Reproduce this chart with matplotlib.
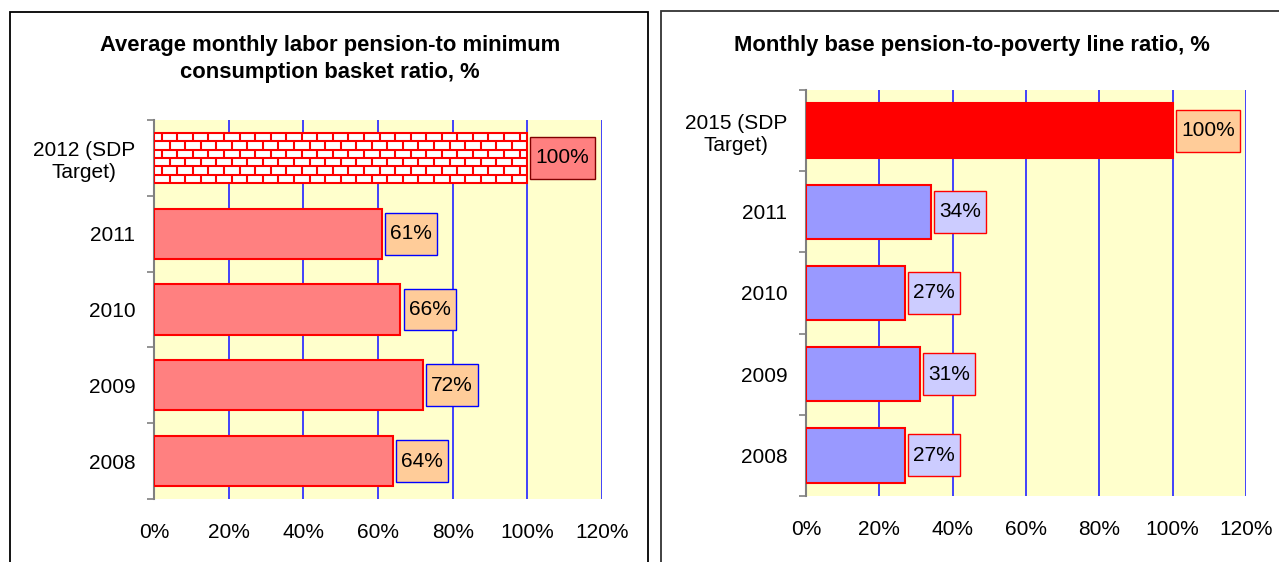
import numpy as np
import matplotlib
matplotlib.use('Agg')
import matplotlib.pyplot as plt
from matplotlib.path import Path
from matplotlib.patches import Rectangle
from matplotlib.collections import LineCollection

plt.rcParams['font.family'] = ['Liberation Sans', 'DejaVu Sans']

# ---- data ----
left_years = ['2008', '2009', '2010', '2011', '2012 (SDP\nTarget)']
left_values = [64, 72, 66, 61, 100]
right_years = ['2008', '2009', '2010', '2011', '2015 (SDP\nTarget)']
right_values = [27, 31, 27, 34, 100]
x_ticks = [0, 20, 40, 60, 80, 100, 120]

left_title = 'Average monthly labor pension-to minimum\nconsumption basket ratio, %'
right_title = 'Monthly base pension-to-poverty line ratio, %'

W, H = 1279, 562
FS = 15


def label_box(x0, y0, width, height, mutation_size):
    # rectangle with more room above/below than left/right (like excel labels)
    px = 0.25 * mutation_size
    py = 0.55 * mutation_size
    x0, y0 = x0 - px, y0 - py
    x1, y1 = x0 + width + 2 * px, y0 + height + 2 * py
    return Path([(x0, y0), (x1, y0), (x1, y1), (x0, y1), (x0, y0)], closed=True)


def setup_axes(ax, labels):
    n = len(labels)
    ax.set_facecolor('#FFFFCC')
    ax.set_xlim(0, 120)
    ax.set_ylim(-0.5, n - 0.5)
    ax.set_xticks(x_ticks)
    ax.set_xticklabels([f'{t}%' for t in x_ticks], fontsize=FS)
    ax.set_yticks(np.arange(n))
    ax.set_yticklabels(labels, fontsize=FS, multialignment='center')
    ax.set_yticks(np.arange(n + 1) - 0.5, minor=True)
    ax.tick_params(axis='y', which='major', length=0, pad=13.5)
    ax.tick_params(axis='y', which='minor', length=5, width=1.2, color='#808080', direction='out')
    ax.tick_params(axis='x', length=0, pad=17)
    for s in ['top', 'right', 'bottom']:
        ax.spines[s].set_visible(False)
    ax.spines['left'].set_color('#808080')
    ax.spines['left'].set_linewidth(1.5)
    ax.set_axisbelow(True)
    ax.xaxis.grid(True, color='#3333FF', lw=1.3)


def add_label(ax, v, i, fc, ec):
    ax.annotate(f'{v}%', xy=(v, i), xytext=(6, 0), textcoords='offset points',
                ha='left', va='center', fontsize=FS, zorder=5,
                bbox=dict(boxstyle=label_box, fc=fc, ec=ec, lw=1.0))


fig = plt.figure(figsize=(W / 100, H / 100), dpi=100)

# panel frames
fig.patches.append(Rectangle((10 / W, -0.05), 638 / W, 1.05 - 12 / H, transform=fig.transFigure,
                             fill=False, ec='black', lw=1.3))
fig.patches.append(Rectangle((661 / W, -0.05), 0.5, 1.05 - 11 / H, transform=fig.transFigure,
                             fill=False, ec='#333333', lw=1.3))

# ---- left chart ----
ax1 = fig.add_axes([154 / W, 63 / H, 448 / W, 379 / H])
setup_axes(ax1, left_years)
bar_h = 0.66
bars = ax1.barh(np.arange(len(left_values)), left_values, height=bar_h,
                color='#FF8080', edgecolor='#FF0000', lw=1.5, zorder=3)
# target bar: brick pattern
tb = bars[-1]
tb.set_facecolor('white')
bx0, by0 = tb.get_x(), tb.get_y()
bw, bh = tb.get_width(), tb.get_height()
rows = 6
row_h = bh / rows
brick_w = bw / 24
segs = []
for k in range(1, rows):
    segs.append([(bx0, by0 + k * row_h), (bx0 + bw, by0 + k * row_h)])
for k in range(rows):
    off = 0.5 * brick_w * (k % 2)
    xs = np.arange(bx0 + off, bx0 + bw, brick_w)
    for xv in xs:
        segs.append([(xv, by0 + k * row_h), (xv, by0 + (k + 1) * row_h)])
lc = LineCollection(segs, colors='#FF0000', lw=1.5, zorder=3.5)
ax1.add_collection(lc)
lc.set_clip_path(tb)

for i, v in enumerate(left_values):
    if i == len(left_values) - 1:
        add_label(ax1, v, i, '#FF8080', '#800000')
    else:
        add_label(ax1, v, i, '#FFCC99', '#0000FF')

fig.text(330 / W, 1 - 59 / H, left_title, ha='center', va='center',
         fontsize=15.8, fontweight='bold', linespacing=1.4)

# ---- right chart ----
ax2 = fig.add_axes([806 / W, 66 / H, 440 / W, 406 / H])
setup_axes(ax2, right_years)
colors_r = ['#9999FF'] * (len(right_values) - 1) + ['#FF0000']
ax2.barh(np.arange(len(right_values)), right_values, height=0.67,
         color=colors_r, edgecolor='#FF0000', lw=1.5, zorder=3)
for i, v in enumerate(right_values):
    if i == len(right_values) - 1:
        add_label(ax2, v, i, '#FFCC99', '#FF0000')
    else:
        add_label(ax2, v, i, '#CCCCFF', '#FF0000')

fig.text(972 / W, 1 - 45 / H, right_title, ha='center', va='center',
         fontsize=15.8, fontweight='bold')

fig.savefig('out.png', dpi=100)
